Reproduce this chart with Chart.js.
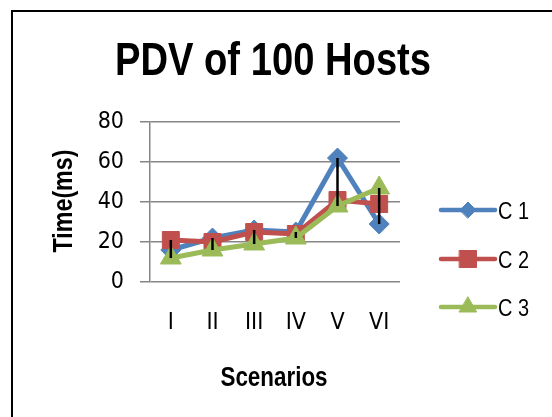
<!DOCTYPE html>
<html>
<head>
<meta charset="utf-8">
<script src="https://cdn.jsdelivr.net/npm/chart.js@4.4.1/dist/chart.umd.min.js"></script>
<style>
  html, body { margin: 0; padding: 0; background: #fff; }
  #wrap { width: 552px; height: 417px; position: relative; }
</style>
</head>
<body>
<div id="wrap"><canvas id="pdvChart" width="552" height="417"></canvas></div>
<script>
// chart data
const scenarios = ["I", "II", "III", "IV", "V", "VI"];
const c1Values = [16, 22, 26, 25, 62, 29];
const c2Values = [21, 20, 25, 24, 41, 39];
const c3Values = [12, 16, 19, 22, 38, 47];
const seriesNames = ["C 1", "C 2", "C 3"];
const yTicks = [0, 20, 40, 60, 80];

const chartTitle = "PDV of 100 Hosts";
const xTitle = "Scenarios";
const yTitle = "Time(ms)";

const SANS = '"Liberation Sans", Arial, sans-serif';
const COND = '"DejaVu Sans Condensed", "Liberation Sans", sans-serif';
const GRID = "#868686";
const NARROW_X = 0.83; // squeeze Liberation Sans to look like Arial Narrow

// text squeezed horizontally (Arial Narrow look)
function narrowText(ctx, text, x, y, font, rotate, align) {
  ctx.save();
  ctx.translate(x, y);
  if (rotate) ctx.rotate(-Math.PI / 2);
  ctx.scale(NARROW_X, 1);
  ctx.font = font;
  ctx.fillStyle = "#000";
  ctx.textAlign = align || "center";
  ctx.textBaseline = "alphabetic";
  ctx.fillText(text, 0, 0);
  ctx.restore();
}

// black high-low line at every category
const highLowLines = {
  id: "highLowLines",
  afterDatasetsDraw(chart) {
    const { ctx, scales } = chart;
    ctx.save();
    ctx.strokeStyle = "#000";
    ctx.lineWidth = 2.5;
    scenarios.forEach((s, i) => {
      const vals = chart.data.datasets.map(d => d.data[i]);
      const x = scales.x.getPixelForValue(i);
      ctx.beginPath();
      ctx.moveTo(x, scales.y.getPixelForValue(Math.max(...vals)));
      ctx.lineTo(x, scales.y.getPixelForValue(Math.min(...vals)));
      ctx.stroke();
    });
    ctx.restore();
  }
};

// white background, frame and the titles
const frame = {
  id: "frame",
  beforeDraw(chart) {
    const { ctx, width, height } = chart;
    ctx.save();
    ctx.fillStyle = "#fff";
    ctx.fillRect(0, 0, width, height);
    ctx.strokeStyle = "#000";
    ctx.lineWidth = 2;
    ctx.strokeRect(12, 11, width + 20, height + 20);
    ctx.restore();
  },
  afterDraw(chart) {
    const { ctx } = chart;
    narrowText(ctx, chartTitle, 273, 75, "bold 46px " + SANS, false);
    narrowText(ctx, xTitle, 274, 386, "bold 27px " + SANS, false);
    narrowText(ctx, yTitle, 72, 201, "bold 28px " + SANS, true);
  }
};

// legend with line + marker, like Excel
const sideLegend = {
  id: "sideLegend",
  afterDraw(chart) {
    const { ctx } = chart;
    const rows = [210, 259, 307];
    const markR = [8, 12, 10];
    ctx.save();
    chart.data.datasets.forEach((ds, i) => {
      const y = rows[i];
      ctx.strokeStyle = ds.borderColor;
      ctx.lineWidth = 4.5;
      ctx.lineCap = "round";
      ctx.beginPath();
      ctx.moveTo(441, y);
      ctx.lineTo(495, y);
      ctx.stroke();
      ctx.fillStyle = ds.pointBackgroundColor;
      ctx.strokeStyle = ds.pointBorderColor;
      ctx.lineWidth = 1;
      Chart.helpers.drawPoint(ctx, { pointStyle: ds.pointStyle, radius: markR[i], borderWidth: 1 }, 468, y);
      narrowText(ctx, ds.label, 498, y + 8.5, "24px " + SANS, false, "left");
    });
    ctx.restore();
  }
};

function series(label, data, color, style, radius, order) {
  return {
    label: label,
    data: data,
    borderColor: color,
    backgroundColor: color,
    borderWidth: 5,
    pointStyle: style,
    pointRadius: radius,
    pointHoverRadius: radius,
    pointBackgroundColor: color,
    pointBorderColor: color,
    pointBorderWidth: 1,
    tension: 0,
    order: order
  };
}

const ctx = document.getElementById("pdvChart").getContext("2d");
new Chart(ctx, {
  type: "line",
  data: {
    labels: scenarios,
    datasets: [
      series(seriesNames[0], c1Values, "#4F81BD", "rectRot", 10, 3),
      series(seriesNames[1], c2Values, "#C0504D", "rect", 12, 2),
      series(seriesNames[2], c3Values, "#9BBB59", "triangle", 12, 1)
    ]
  },
  options: {
    responsive: false,
    animation: false,
    devicePixelRatio: 1,
    layout: { padding: { left: 0, right: 152, top: 122, bottom: 0 } },
    plugins: {
      legend: { display: false },
      tooltip: { enabled: false },
      title: { display: false }
    },
    scales: {
      x: {
        offset: true,
        grid: { display: false, drawTicks: false, offset: true },
        border: { display: false },
        ticks: { color: "#000", font: { family: COND, size: 23 }, padding: 27 },
        afterFit(scale) { scale.height = 135; }
      },
      y: {
        min: 0,
        max: 80,
        afterBuildTicks(scale) { scale.ticks = yTicks.map(v => ({ value: v })); },
        grid: { color: GRID, lineWidth: 1.5, tickLength: 10, drawTicks: true },
        border: { display: true, color: GRID, width: 1.5 },
        ticks: { color: "#000", font: { family: COND, size: 23 }, padding: 16 },
        afterFit(scale) { scale.width = 150; }
      }
    }
  },
  plugins: [frame, highLowLines, sideLegend]
});
</script>
</body>
</html>
